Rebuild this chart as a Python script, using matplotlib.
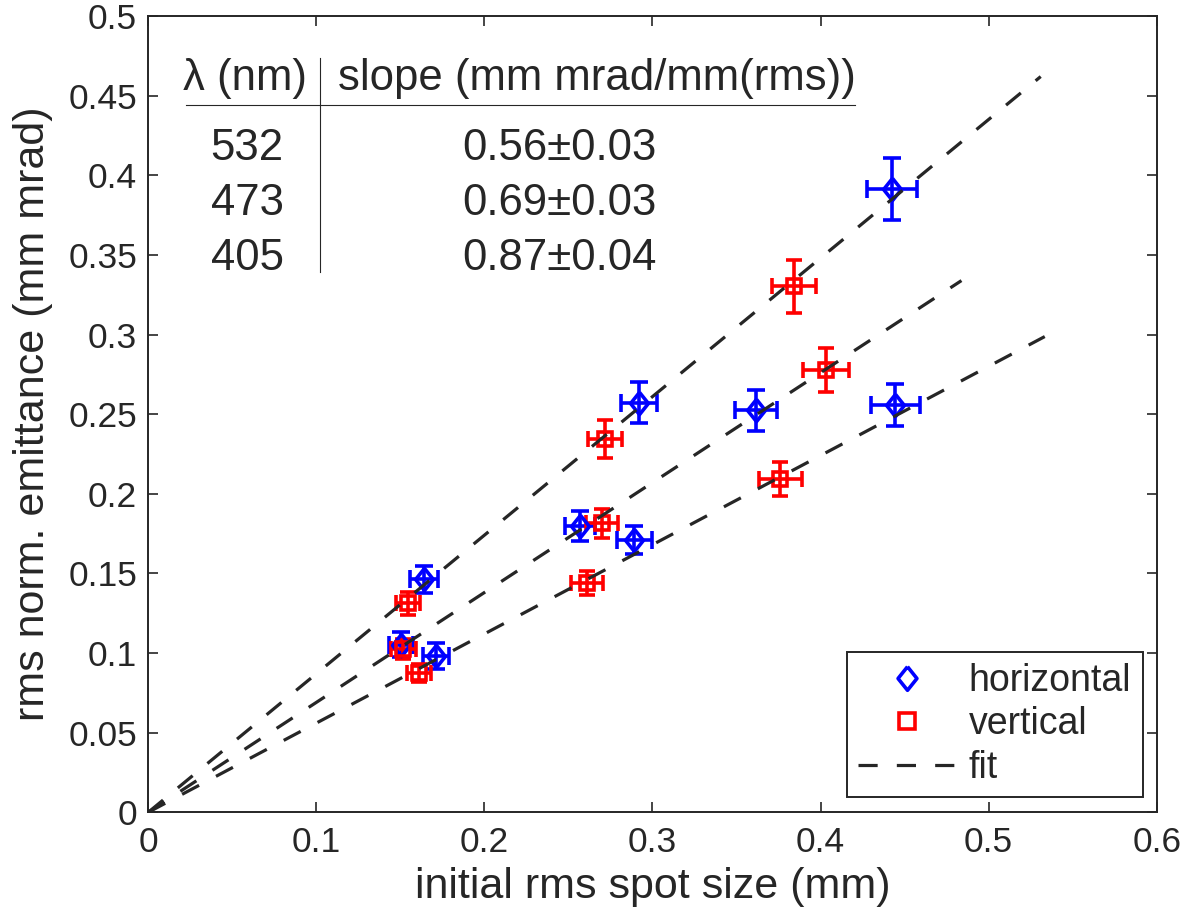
import numpy as np
import matplotlib
matplotlib.use("Agg")
import matplotlib.pyplot as plt
from matplotlib.lines import Line2D

plt.rcParams['font.family'] = ['Liberation Sans', 'DejaVu Sans']

# ---------------- data ----------------
wavelengths = ['532', '473', '405']
slope_labels = ['0.56\u00b10.03', '0.69\u00b10.03', '0.87\u00b10.04']
fit_slopes = [0.56, 0.69, 0.87]

# horizontal (blue diamonds), per wavelength group 532, 473, 405
h_x = [[0.4445, 0.2893, 0.1711], [0.3617, 0.2570, 0.1504], [0.4425, 0.2917, 0.1641]]
h_y = [[0.2558, 0.1710, 0.0982], [0.2523, 0.1798, 0.1051], [0.3915, 0.2573, 0.1463]]
h_xerr = [[0.0147, 0.0104, 0.0078], [0.0126, 0.0090, 0.0071], [0.0149, 0.0107, 0.0084]]
h_yerr = [[0.0131, 0.0087, 0.0082], [0.0126, 0.0092, 0.0079], [0.0196, 0.0128, 0.0084]]

# vertical (red squares)
v_x = [[0.3760, 0.2610, 0.1613], [0.4032, 0.2699, 0.1518], [0.3843, 0.2718, 0.1544]]
v_y = [[0.2094, 0.1442, 0.0873], [0.2778, 0.1815, 0.1024], [0.3302, 0.2343, 0.1313]]
v_xerr = [[0.0127, 0.0096, 0.0072], [0.0136, 0.0094, 0.0074], [0.0132, 0.0099, 0.0071]]
v_yerr = [[0.0108, 0.0075, 0.0055], [0.0139, 0.0091, 0.0063], [0.0168, 0.0120, 0.0073]]

xticks = [0, 0.1, 0.2, 0.3, 0.4, 0.5, 0.6]
xtick_labels = ['0', '0.1', '0.2', '0.3', '0.4', '0.5', '0.6']
yticks = [0, 0.05, 0.1, 0.15, 0.2, 0.25, 0.3, 0.35, 0.4, 0.45, 0.5]
ytick_labels = ['0', '0.05', '0.1', '0.15', '0.2', '0.25', '0.3', '0.35', '0.4', '0.45', '0.5']

# ---------------- style ----------------
TXT = '#262626'
diamond = [(0, 1), (0.8, 0), (0, -1), (-0.8, 0), (0, 1)]
LW = 2.6

fig = plt.figure(figsize=(11.9, 9.14), dpi=100)
ax = fig.add_axes([0.1246, 0.1113, 0.8474, 0.8712])

for i in range(3):
    ax.errorbar(h_x[i], h_y[i], xerr=h_xerr[i], yerr=h_yerr[i], fmt='none',
                ecolor='blue', elinewidth=LW, capsize=6.5, capthick=LW, zorder=2)
    ax.plot(h_x[i], h_y[i], ls='none', marker=diamond, ms=16, mfc='none',
            mec='blue', mew=LW, zorder=3)
    ax.errorbar(v_x[i], v_y[i], xerr=v_xerr[i], yerr=v_yerr[i], fmt='none',
                ecolor='red', elinewidth=LW, capsize=5.5, capthick=LW, zorder=2)
    ax.plot(v_x[i], v_y[i], ls='none', marker='s', ms=10, mfc='none',
            mec='red', mew=LW, zorder=3)

for i in range(3):
    xmax = 1.2 * max(max(h_x[i]), max(v_x[i]))
    xf = np.array([0.0, xmax])
    ax.plot(xf, fit_slopes[i] * xf, color=TXT, lw=2.3, ls=(0, (6, 6)),
            dash_capstyle='butt', zorder=4)

ax.set_xlim(0, 0.6)
ax.set_ylim(0, 0.5)
ax.set_xticks(xticks)
ax.set_xticklabels(xtick_labels)
ax.set_yticks(yticks)
ax.set_yticklabels(ytick_labels)
ax.tick_params(direction='in', length=7, width=1.2, top=True, right=True,
               labelsize=25.5, colors=TXT)
ax.tick_params(axis='x', pad=10)
ax.tick_params(axis='y', pad=8)
for s in ax.spines.values():
    s.set_linewidth(1.4)
    s.set_color(TXT)

ax.set_xlabel('initial rms spot size (mm)', fontsize=31, color=TXT, labelpad=6)
ax.set_ylabel('rms norm. emittance (mm mrad)', fontsize=31, color=TXT, labelpad=11)

# ---------------- table ----------------
tfs = 31.5
ax.text(0.096, 0.922, '\u03bb (nm)', transform=ax.transAxes, ha='center', va='center',
        fontsize=tfs, color=TXT)
ax.text(0.445, 0.922, 'slope (mm mrad/mm(rms))', transform=ax.transAxes, ha='center',
        va='center', fontsize=tfs, color=TXT)
ax.plot([0.037, 0.701], [0.888, 0.888], transform=ax.transAxes, color=TXT, lw=0.8)
ax.plot([0.170, 0.170], [0.947, 0.679], transform=ax.transAxes, color=TXT, lw=0.8)
row_y = [0.834, 0.765, 0.696]
for wl, sl, yy in zip(wavelengths, slope_labels, row_y):
    ax.text(0.098, yy, wl, transform=ax.transAxes, ha='center', va='center',
            fontsize=tfs, color=TXT)
    ax.text(0.408, yy, sl, transform=ax.transAxes, ha='center', va='center',
            fontsize=tfs, color=TXT)

# ---------------- legend ----------------
handles = [
    Line2D([], [], ls='none', marker=diamond, ms=17, mfc='none', mec='blue', mew=LW),
    Line2D([], [], ls='none', marker='s', ms=12, mfc='none', mec='red', mew=LW),
    Line2D([], [], color=TXT, lw=2.3, ls=(0, (6, 6))),
]
leg = ax.legend(handles, ['horizontal', 'vertical', 'fit'], loc='lower right',
                bbox_to_anchor=(0.986, 0.019), bbox_transform=ax.transAxes,
                borderaxespad=0, fontsize=27, frameon=True, fancybox=False,
                handlelength=2.6, handletextpad=0.35, borderpad=0.3,
                labelspacing=0.2, labelcolor=TXT)
leg.get_frame().set_edgecolor(TXT)
leg.get_frame().set_linewidth(1.4)
leg.get_frame().set_alpha(1)

fig.savefig('out.png', dpi=100, facecolor='white')
